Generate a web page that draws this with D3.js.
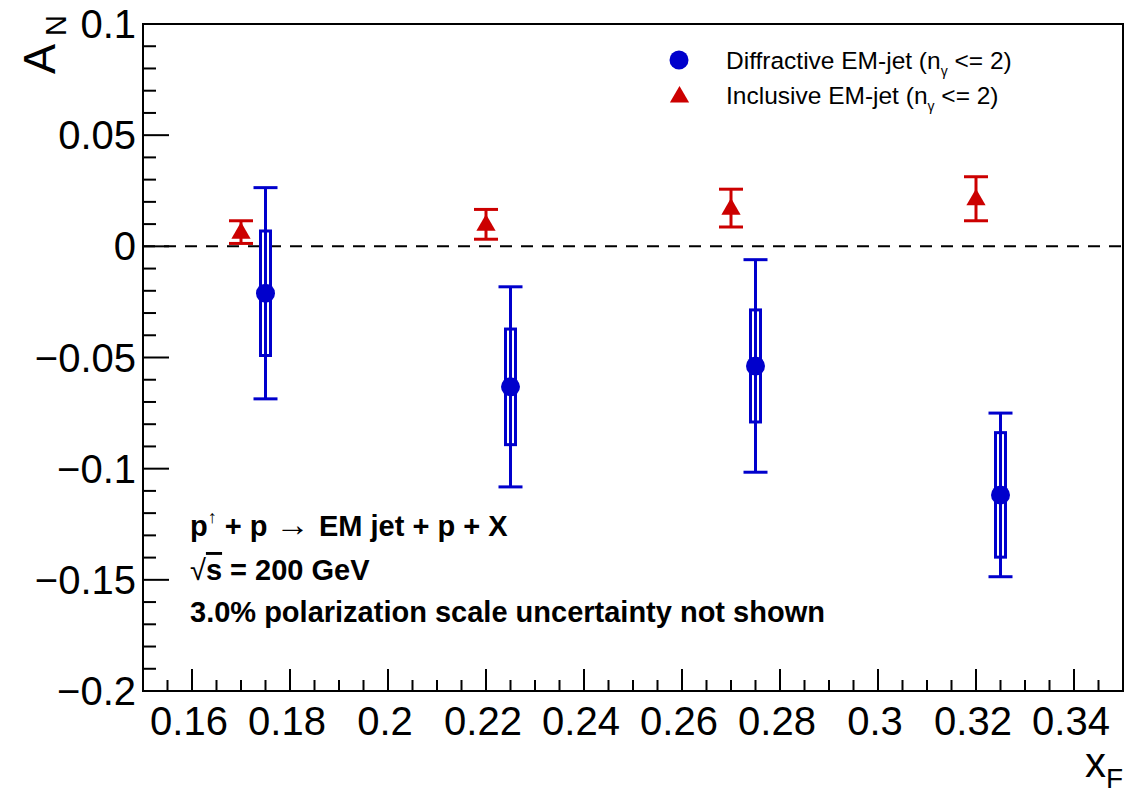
<!DOCTYPE html>
<html>
<head>
<meta charset="utf-8">
<script src="https://cdn.jsdelivr.net/npm/d3@7"></script>
<style>
  body { margin: 0; background: #fff; }
  svg { display: block; }
  text { font-family: "Liberation Sans", Arial, Helvetica, sans-serif; }
</style>
</head>
<body>
<script>
// diffractive EM-jet points (blue circles), stat errors and syst boxes
var xDiff = [0.175, 0.225, 0.275, 0.325];
var anDiff = [-0.0211, -0.0632, -0.0538, -0.1118];
var statDiff = [0.0475, 0.045, 0.0478, 0.0368];
var sysDiff = [0.028, 0.026, 0.0252, 0.028];

// inclusive EM-jet points (red triangles)
var xIncl = [0.17, 0.22, 0.27, 0.32];
var anIncl = [0.0064, 0.0099, 0.0172, 0.0214];
var statIncl = [0.0051, 0.0067, 0.0085, 0.0099];

var xTicks = [0.16, 0.18, 0.2, 0.22, 0.24, 0.26, 0.28, 0.3, 0.32, 0.34];
var yTicks = [-0.2, -0.15, -0.1, -0.05, 0, 0.05, 0.1];

var W = 1131, H = 794;
var fLeft = 143, fRight = 1123, fTop = 24, fBottom = 691;
var blue = "#0000cc", red = "#cc0000";

var svg = d3.select("body").append("svg")
    .attr("width", W)
    .attr("height", H);

var x = d3.scaleLinear().domain([0.15, 0.35]).range([fLeft, fRight]);
var y = d3.scaleLinear().domain([-0.2, 0.1]).range([fBottom, fTop]);

// frame
svg.append("rect")
    .attr("x", fLeft).attr("y", fTop)
    .attr("width", fRight - fLeft).attr("height", fBottom - fTop)
    .attr("fill", "none").attr("stroke", "#000").attr("stroke-width", 2);

// x ticks (minor every 0.005)
var xMinor = d3.range(0, 39).map(function(i) { return +(0.155 + i * 0.005).toFixed(3); });
svg.append("g").selectAll("line")
    .data(xMinor)
    .enter().append("line")
    .attr("x1", function(d) { return x(d); })
    .attr("x2", function(d) { return x(d); })
    .attr("y1", fBottom)
    .attr("y2", function(d) {
        var major = xTicks.some(function(t) { return Math.abs(t - d) < 1e-6; });
        return fBottom - (major ? 22 : 11);
    })
    .attr("stroke", "#000").attr("stroke-width", 2);

svg.append("g").selectAll("text")
    .data(xTicks)
    .enter().append("text")
    .attr("x", function(d) { return x(d) - 3; })
    .attr("y", 735)
    .attr("text-anchor", "middle")
    .attr("font-size", 40)
    .text(function(d) { return d3.format("")(d); });

// y ticks (minor every 0.01)
var yMinor = d3.range(0, 31).map(function(i) { return +(-0.2 + i * 0.01).toFixed(3); });
svg.append("g").selectAll("line")
    .data(yMinor)
    .enter().append("line")
    .attr("x1", fLeft)
    .attr("x2", function(d) {
        var major = yTicks.some(function(t) { return Math.abs(t - d) < 1e-6; });
        return fLeft + (major ? 26 : 13);
    })
    .attr("y1", function(d) { return y(d); })
    .attr("y2", function(d) { return y(d); })
    .attr("stroke", "#000").attr("stroke-width", 2);

svg.append("g").selectAll("text")
    .data(yTicks)
    .enter().append("text")
    .attr("x", 136)
    .attr("y", function(d) { return y(d) + 14; })
    .attr("text-anchor", "end")
    .attr("font-size", 40)
    .text(function(d) { return d === 0 ? "0" : d3.format("")(d).replace("-", "\u2212"); });

// axis titles
svg.append("text")
    .attr("transform", "translate(55,74) rotate(-90)")
    .attr("font-size", 45)
    .text("A");
svg.append("text")
    .attr("transform", "translate(66,36) rotate(-90)")
    .attr("font-size", 29)
    .text("N");

var xt = svg.append("text")
    .attr("x", 1123).attr("y", 777)
    .attr("text-anchor", "end")
    .attr("font-size", 42);
xt.append("tspan").text("x");
xt.append("tspan").attr("font-size", 28).attr("dy", 11).text("F");

// zero line
svg.append("line")
    .attr("x1", fLeft).attr("x2", fRight)
    .attr("y1", y(0)).attr("y2", y(0))
    .attr("stroke", "#000").attr("stroke-width", 2)
    .attr("stroke-dasharray", "12,9");

// inclusive: error bars + triangles
var gi = svg.append("g");
xIncl.forEach(function(xv, i) {
    var cx = x(xv), y1 = y(anIncl[i] + statIncl[i]), y0 = y(anIncl[i] - statIncl[i]);
    gi.append("line").attr("x1", cx).attr("x2", cx).attr("y1", y1).attr("y2", y0)
        .attr("stroke", red).attr("stroke-width", 3);
    [y1, y0].forEach(function(yy) {
        gi.append("line").attr("x1", cx - 12).attr("x2", cx + 12).attr("y1", yy).attr("y2", yy)
            .attr("stroke", red).attr("stroke-width", 3);
    });
});
gi.selectAll("path")
    .data(xIncl)
    .enter().append("path")
    .attr("d", d3.symbol().type(d3.symbolTriangle).size(160))
    .attr("transform", function(d, i) { return "translate(" + x(d) + "," + (y(anIncl[i]) + 1) + ")"; })
    .attr("fill", red);

// diffractive: syst boxes, stat bars, circles
var gd = svg.append("g");
xDiff.forEach(function(xv, i) {
    var cx = x(xv);
    gd.append("rect")
        .attr("x", cx - 5).attr("width", 10)
        .attr("y", y(anDiff[i] + sysDiff[i]))
        .attr("height", y(anDiff[i] - sysDiff[i]) - y(anDiff[i] + sysDiff[i]))
        .attr("fill", "none").attr("stroke", blue).attr("stroke-width", 3);
    var y1 = y(anDiff[i] + statDiff[i]), y0 = y(anDiff[i] - statDiff[i]);
    gd.append("line").attr("x1", cx).attr("x2", cx).attr("y1", y1).attr("y2", y0)
        .attr("stroke", blue).attr("stroke-width", 3);
    [y1, y0].forEach(function(yy) {
        gd.append("line").attr("x1", cx - 12).attr("x2", cx + 12).attr("y1", yy).attr("y2", yy)
            .attr("stroke", blue).attr("stroke-width", 3);
    });
});
gd.selectAll("circle")
    .data(xDiff)
    .enter().append("circle")
    .attr("cx", function(d) { return x(d); })
    .attr("cy", function(d, i) { return y(anDiff[i]); })
    .attr("r", 9.5)
    .attr("fill", blue);

// legend
var lg = svg.append("g");
lg.append("circle").attr("cx", 679).attr("cy", 60).attr("r", 9.5).attr("fill", blue);
lg.append("path")
    .attr("d", d3.symbol().type(d3.symbolTriangle).size(160))
    .attr("transform", "translate(679.5,97)")
    .attr("fill", red);
var legTexts = ["Diffractive EM-jet (n", "Inclusive EM-jet (n"];
legTexts.forEach(function(s, i) {
    var t = lg.append("text")
        .attr("x", 726).attr("y", 69 + i * 35)
        .attr("font-size", 24.5);
    t.append("tspan").text(s);
    t.append("tspan").attr("font-size", 14).attr("dy", 7).text("\u03b3");
    t.append("tspan").attr("dy", -7).text("  <= 2)");
});

// annotation
var ann = svg.append("g").attr("font-weight", "bold").attr("font-size", 29);
var t1 = ann.append("text").attr("x", 190).attr("y", 536);
t1.append("tspan").text("p");
t1.append("tspan").attr("font-size", 18).attr("font-weight", "normal").attr("dy", -13).text("\u2191");
t1.append("tspan").attr("dy", 13).text(" + p ");
t1.append("tspan").attr("font-weight", "normal").attr("font-size", 34).text(" \u2192 ");
t1.append("tspan").text("EM jet + p + X");

var t2 = ann.append("text").attr("x", 190).attr("y", 580);
t2.append("tspan").attr("font-weight", "normal").text("\u221a");
t2.append("tspan").attr("text-decoration", "overline").text("s");
t2.append("tspan").text(" = 200 GeV");

ann.append("text").attr("x", 190).attr("y", 622)
    .text("3.0% polarization scale uncertainty not shown");
</script>
</body>
</html>
